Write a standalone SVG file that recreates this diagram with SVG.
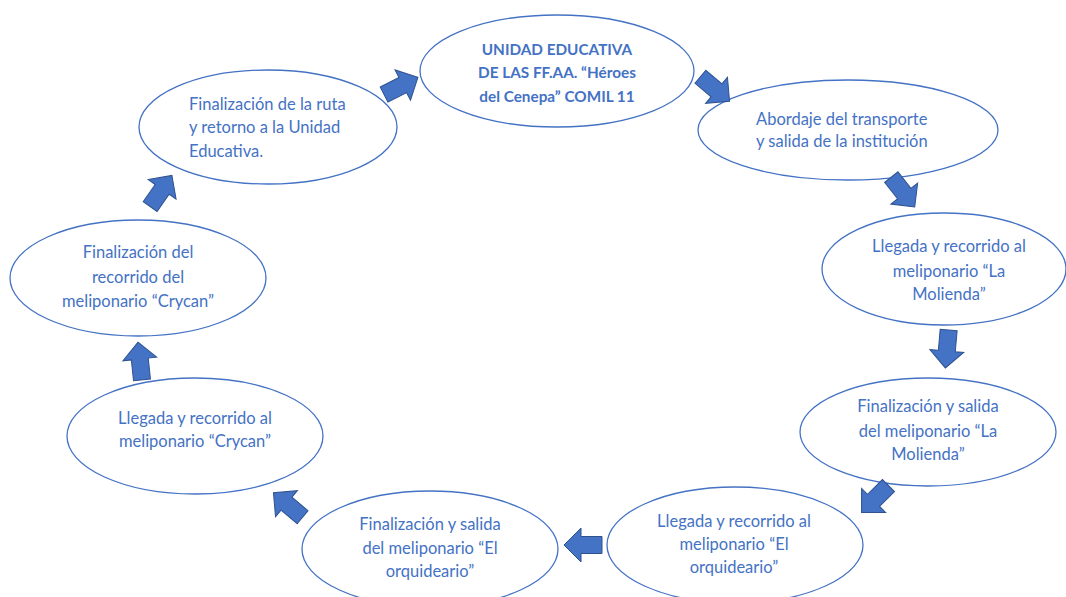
<svg xmlns="http://www.w3.org/2000/svg" width="1066" height="597" viewBox="0 0 1066 597">
<defs>
<style>
.node ellipse{fill:#ffffff;stroke:#4472C4;stroke-width:1.3}
.t{font-family:Lato,"Open Sans",sans-serif;font-size:16.5px;fill:#4472C4}
.c{text-anchor:middle}
.b{font-weight:bold;font-size:15.3px}
.arr{fill:#4472C4;stroke:#2F528F;stroke-width:1}
</style>
<path id="ar" d="M-19,-8.5 H2 V-17 L19,0 L2,17 V8.5 H-19 Z"/>
</defs>
<rect width="1066" height="597" fill="#ffffff"/>
<g id="n1" class="node">
<ellipse cx="557" cy="71" rx="137" ry="56"/>
<text class="t c b" x="557" y="55">UNIDAD EDUCATIVA</text>
<text class="t c b" x="557" y="78">DE LAS FF.AA. “Héroes</text>
<text class="t c b" x="557" y="102">del Cenepa” COMIL 11</text>
</g>
<g id="n2" class="node">
<ellipse cx="848" cy="130" rx="150" ry="50"/>
<text class="t" x="756" y="125">Abordaje del transporte</text>
<text class="t" x="756" y="147">y salida de la institución</text>
</g>
<g id="n3" class="node">
<ellipse cx="944" cy="269" rx="122" ry="56"/>
<text class="t c" x="949" y="252">Llegada y recorrido al</text>
<text class="t c" x="949" y="277">meliponario “La</text>
<text class="t c" x="949" y="300">Molienda”</text>
</g>
<g id="n4" class="node">
<ellipse cx="928" cy="432" rx="128" ry="54"/>
<text class="t c" x="928" y="412">Finalización y salida</text>
<text class="t c" x="928" y="437">del meliponario “La</text>
<text class="t c" x="928" y="460">Molienda”</text>
</g>
<g id="n5" class="node">
<ellipse cx="735" cy="545" rx="128" ry="58"/>
<text class="t c" x="734" y="527">Llegada y recorrido al</text>
<text class="t c" x="734" y="550">meliponario “El</text>
<text class="t c" x="734" y="573">orquideario”</text>
</g>
<g id="n6" class="node">
<ellipse cx="430" cy="549" rx="128" ry="58"/>
<text class="t c" x="430" y="530">Finalización y salida</text>
<text class="t c" x="430" y="554">del meliponario “El</text>
<text class="t c" x="430" y="577">orquideario”</text>
</g>
<g id="n7" class="node">
<ellipse cx="195" cy="436" rx="128" ry="58"/>
<text class="t c" x="195" y="424">Llegada y recorrido al</text>
<text class="t c" x="195" y="447">meliponario “Crycan”</text>
</g>
<g id="n8" class="node">
<ellipse cx="138" cy="278" rx="128" ry="58"/>
<text class="t c" x="138" y="258">Finalización del</text>
<text class="t c" x="138" y="283">recorrido del</text>
<text class="t c" x="138" y="307">meliponario “Crycan”</text>
</g>
<g id="n9" class="node">
<ellipse cx="268" cy="127" rx="129" ry="57"/>
<text class="t" x="189" y="110">Finalización de la ruta</text>
<text class="t" x="189" y="133">y retorno a la Unidad</text>
<text class="t" x="189" y="157">Educativa.</text>
</g>
<g id="connectors">
<use href="#ar" class="arr" transform="translate(401,86) rotate(-27)"/>
<use href="#ar" class="arr" transform="translate(715,89) rotate(40)"/>
<use href="#ar" class="arr" transform="translate(903,192) rotate(52)"/>
<use href="#ar" class="arr" transform="translate(947,349) rotate(95)"/>
<use href="#ar" class="arr" transform="translate(875,499) rotate(135)"/>
<use href="#ar" class="arr" transform="translate(583,545) rotate(180)"/>
<use href="#ar" class="arr" transform="translate(288,505) rotate(-140)"/>
<use href="#ar" class="arr" transform="translate(140,361) rotate(-96)"/>
<use href="#ar" class="arr" transform="translate(161,191) rotate(-55)"/>
</g>
</svg>
